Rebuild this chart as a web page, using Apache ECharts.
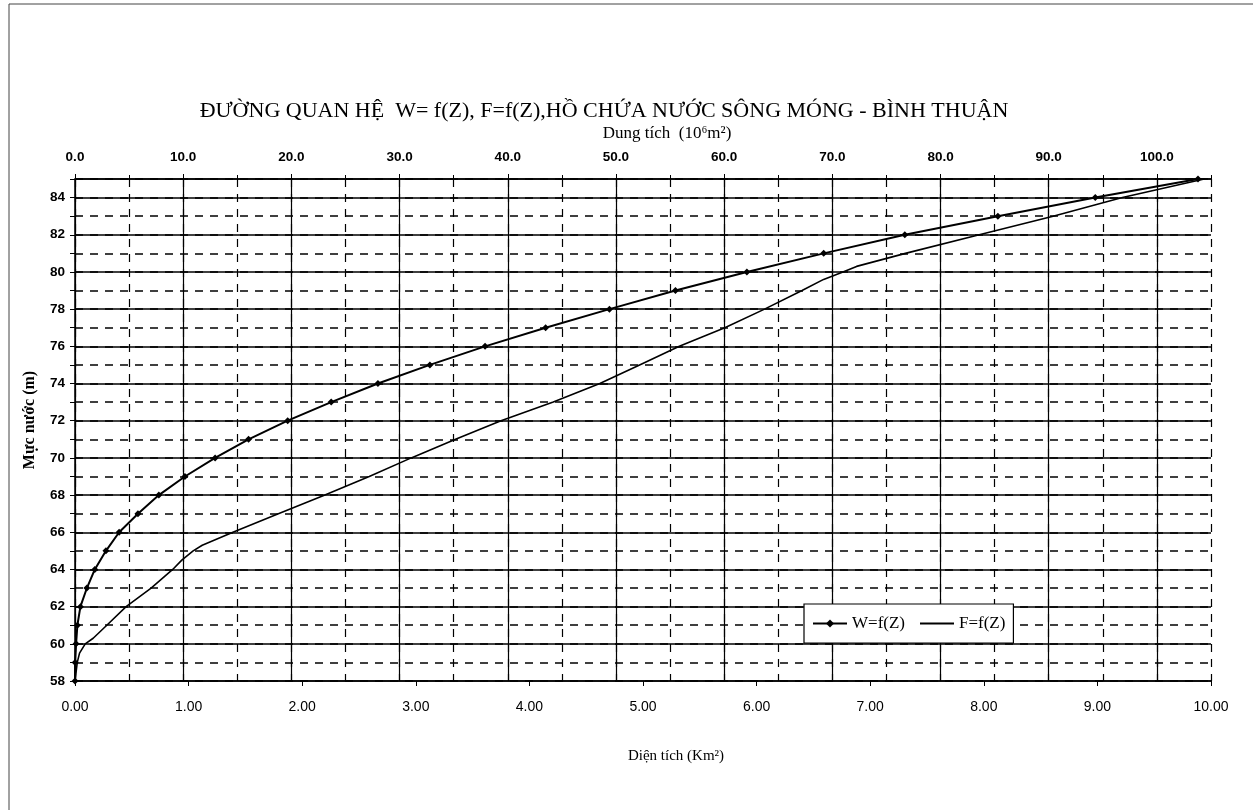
<!DOCTYPE html>
<html>
<head>
<meta charset="utf-8">
<script src="https://cdn.jsdelivr.net/npm/echarts@6/dist/echarts.min.js"></script>
<style>html,body{margin:0;padding:0;background:#fff;}#c{width:1253px;height:810px;}</style>
</head>
<body>
<div id="c"></div>
<script>
// Water level Z (m) for the W=f(Z) markers
const zLevels = [58,59,60,61,62,63,64,65,66,67,68,69,70,71,72,73,74,75,76,77,78,79,80,81,82,83,84,85];
// Storage W (10^6 m3) at each level
const wVolume = [0,0.01,0.1,0.22,0.5,1.1,1.83,2.86,4.08,5.82,7.75,10.16,12.95,16.04,19.66,23.68,28.0,32.8,37.9,43.5,49.4,55.5,62.1,69.2,76.7,85.3,94.3,103.8];
// Surface area F (km2) curve, read as (level, area) pairs
const fLevel = [58,58.5,59,59.5,60,60.3,61,62,63,64,64.5,65,65.3,66,67,68,69,70,71,72,73,74,75,76,77,78,79,79.6,80,80.3,81,82,83,84,85];
const fArea  = [0,0.01,0.02,0.04,0.09,0.16,0.28,0.45,0.67,0.86,0.94,1.04,1.12,1.39,1.79,2.20,2.59,2.96,3.35,3.75,4.21,4.62,4.97,5.32,5.72,6.07,6.40,6.59,6.76,6.88,7.31,7.96,8.61,9.22,9.94];
// Axis settings
const areaTicks = {min:0, max:10, interval:1};
const volTicks = {min:0, max:105, interval:10, minor:5};
const levelTicks = {min:58, max:85, interval:2, minor:1};

const title = 'ĐƯỜNG QUAN HỆ  W= f(Z), F=f(Z),HỒ CHỨA NƯỚC SÔNG MÓNG - BÌNH THUẬN';
const topName = 'Dung tích  (10⁶m²)';
const bottomName = 'Diện tích (Km²)';
const leftName = 'Mực nước (m)';

const wData = zLevels.map((z,i)=>[wVolume[i], z]);
const fData = fLevel.map((z,i)=>[fArea[i], z]);

const chart = echarts.init(document.getElementById('c'), null, {renderer:'canvas'});
const grid = {left:75, right:42, top:179, bottom:129, containLabel:false};
const dash = [8,7];
chart.setOption({
  animation:false,
  backgroundColor:'#fff',
  grid: grid,
  xAxis: [
    { // bottom: area
      type:'value', position:'bottom', min:areaTicks.min, max:areaTicks.max, interval:areaTicks.interval, z:3,
      axisLine:{show:true, onZero:false, lineStyle:{color:'#000', width:1.5}},
      axisTick:{show:true, length:5, lineStyle:{color:'#000'}},
      axisLabel:{margin:19, color:'#000', fontFamily:'Liberation Sans', fontSize:14, formatter:v=>v.toFixed(2)},
      splitLine:{show:false}
    },
    { // top: volume, solid major grid
      type:'value', position:'top', min:volTicks.min, max:volTicks.max, interval:volTicks.interval, z:2,
      axisLine:{show:true, onZero:false, lineStyle:{color:'#000', width:1.5}},
      axisTick:{show:true, length:5, lineStyle:{color:'#000'}},
      axisLabel:{margin:15, color:'#000', fontFamily:'Liberation Sans', fontWeight:'bold', fontSize:13.5, showMaxLabel:false, formatter:v=>v.toFixed(1)},
      splitLine:{show:true, showMaxLine:false, lineStyle:{color:'#000', width:1.2}}
    },
    { // top: volume, dashed minor grid
      type:'value', position:'top', min:volTicks.min, max:volTicks.max, interval:volTicks.minor, z:1,
      axisLine:{show:false},
      axisTick:{show:true, length:4, lineStyle:{color:'#000'}},
      axisLabel:{show:false},
      splitLine:{show:true, lineStyle:{color:'#000', width:1.2, type:dash}}
    }
  ],
  yAxis: [
    {
      type:'value', position:'left', min:levelTicks.min, max:levelTicks.max, interval:levelTicks.interval, z:2,
      axisLine:{show:true, onZero:false, lineStyle:{color:'#000', width:1.5}},
      axisTick:{show:true, length:5, lineStyle:{color:'#000'}},
      axisLabel:{margin:10, color:'#000', fontFamily:'Liberation Sans', fontWeight:'bold', fontSize:13.5, showMaxLabel:false},
      splitLine:{show:true, lineStyle:{color:'#000', width:1.5}}
    },
    {
      type:'value', position:'left', min:levelTicks.min, max:levelTicks.max, interval:levelTicks.minor, z:1,
      axisLine:{show:false},
      axisTick:{show:true, length:5, lineStyle:{color:'#000'}},
      axisLabel:{show:false},
      splitLine:{show:true, lineStyle:{color:'#000', width:1.5, type:dash}}
    }
  ],
  legend: {
    left:804, top:604, padding:[11,8,11,8],
    backgroundColor:'#fff', borderColor:'#000', borderWidth:1.2, borderRadius:0,
    itemWidth:34, itemHeight:10, itemGap:14,
    textStyle:{color:'#000', fontFamily:'Liberation Serif', fontSize:17},
    data:[{name:'W=f(Z)'}, {name:'F=f(Z)', itemStyle:{opacity:0}}]
  },
  series: [
    {
      name:'W=f(Z)', type:'line', xAxisIndex:1, yAxisIndex:0, data:wData, z:5,
      symbol:'diamond', symbolSize:7, showAllSymbol:true,
      lineStyle:{color:'#000', width:2}, itemStyle:{color:'#000'}
    },
    {
      name:'F=f(Z)', type:'line', xAxisIndex:0, yAxisIndex:0, data:fData, z:5,
      symbol:'none', showSymbol:false,
      lineStyle:{color:'#000', width:1.6}, itemStyle:{color:'#000'}
    }
  ],
  graphic: [
    {type:'text', style:{text:title, x:604, y:111, align:'center', verticalAlign:'middle', fill:'#000', font:'22px "Liberation Serif"'}},
    {type:'text', style:{text:topName, x:667, y:134, align:'center', verticalAlign:'middle', fill:'#000', font:'17px "Liberation Serif"'}},
    {type:'text', style:{text:bottomName, x:676, y:756, align:'center', verticalAlign:'middle', fill:'#000', font:'15px "Liberation Serif"'}},
    {type:'text', x:30, y:420, rotation:Math.PI/2, style:{text:leftName, align:'center', verticalAlign:'middle', fill:'#000', font:'bold 16px "Liberation Serif"'}},
    {type:'line', shape:{x1:9, y1:4, x2:9, y2:810}, style:{stroke:'#444', lineWidth:1}},
    {type:'line', shape:{x1:9, y1:4, x2:1253, y2:4}, style:{stroke:'#444', lineWidth:1}}
  ]
});
</script>
</body>
</html>
